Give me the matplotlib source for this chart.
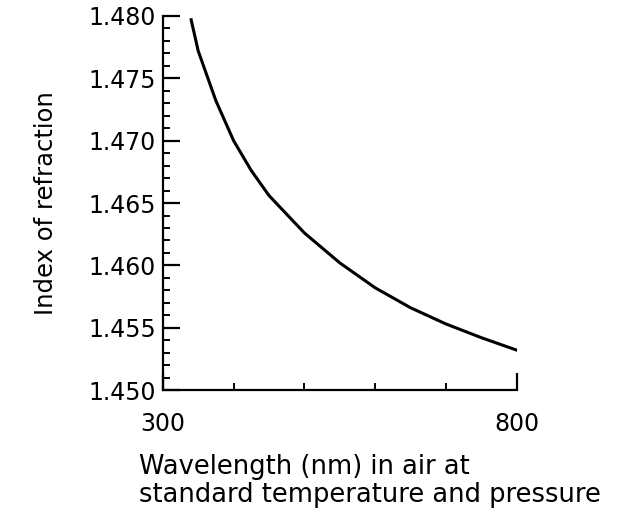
import matplotlib
matplotlib.use("Agg")
import matplotlib.pyplot as plt
from matplotlib.ticker import MultipleLocator, FixedLocator

wavelength_nm = [340, 350, 375, 400, 425, 450, 500, 550, 600, 650, 700, 750, 800]
refr_index = [1.4797, 1.4772, 1.4732, 1.4700, 1.4676, 1.4656, 1.4626, 1.4602, 1.4582, 1.4566, 1.4553, 1.4542, 1.4532]
ytick_vals = [1.450, 1.455, 1.460, 1.465, 1.470, 1.475, 1.480]
ytick_labels = ["1.450", "1.455", "1.460", "1.465", "1.470", "1.475", "1.480"]
xtick_vals = [300, 800]
xtick_labels = ["300", "800"]

plt.rcParams['font.family'] = ['DejaVu Sans']
fig = plt.figure(figsize=(6.19, 5.16), dpi=100)
ax = fig.add_axes([0.263, 0.244, 0.572, 0.725])
ax.plot(wavelength_nm, refr_index, color='black', lw=2.2)
ax.set_xlim(300, 800)
ax.set_ylim(1.450, 1.480)
for s in ['top', 'right']:
    ax.spines[s].set_visible(False)
for s in ['left', 'bottom']:
    ax.spines[s].set_linewidth(1.6)
ax.set_yticks(ytick_vals)
ax.set_yticklabels(ytick_labels)
ax.yaxis.set_minor_locator(MultipleLocator(0.001))
ax.set_xticks(xtick_vals)
ax.set_xticklabels(xtick_labels)
ax.xaxis.set_minor_locator(FixedLocator([400, 500, 600, 700]))
ax.tick_params(axis='both', which='major', direction='in', length=12, width=1.6, labelsize=17, pad=5)
ax.tick_params(axis='x', which='major', pad=16)
ax.tick_params(axis='both', which='minor', direction='in', length=5, width=1.4)
ax.set_ylabel("Index of refraction", fontsize=17.5, labelpad=22)
fig.text(0.224, 0.068, "Wavelength (nm) in air at\nstandard temperature and pressure",
         fontsize=18.5, ha='left', va='center', linespacing=1.1)
fig.savefig("out.png", dpi=100)
